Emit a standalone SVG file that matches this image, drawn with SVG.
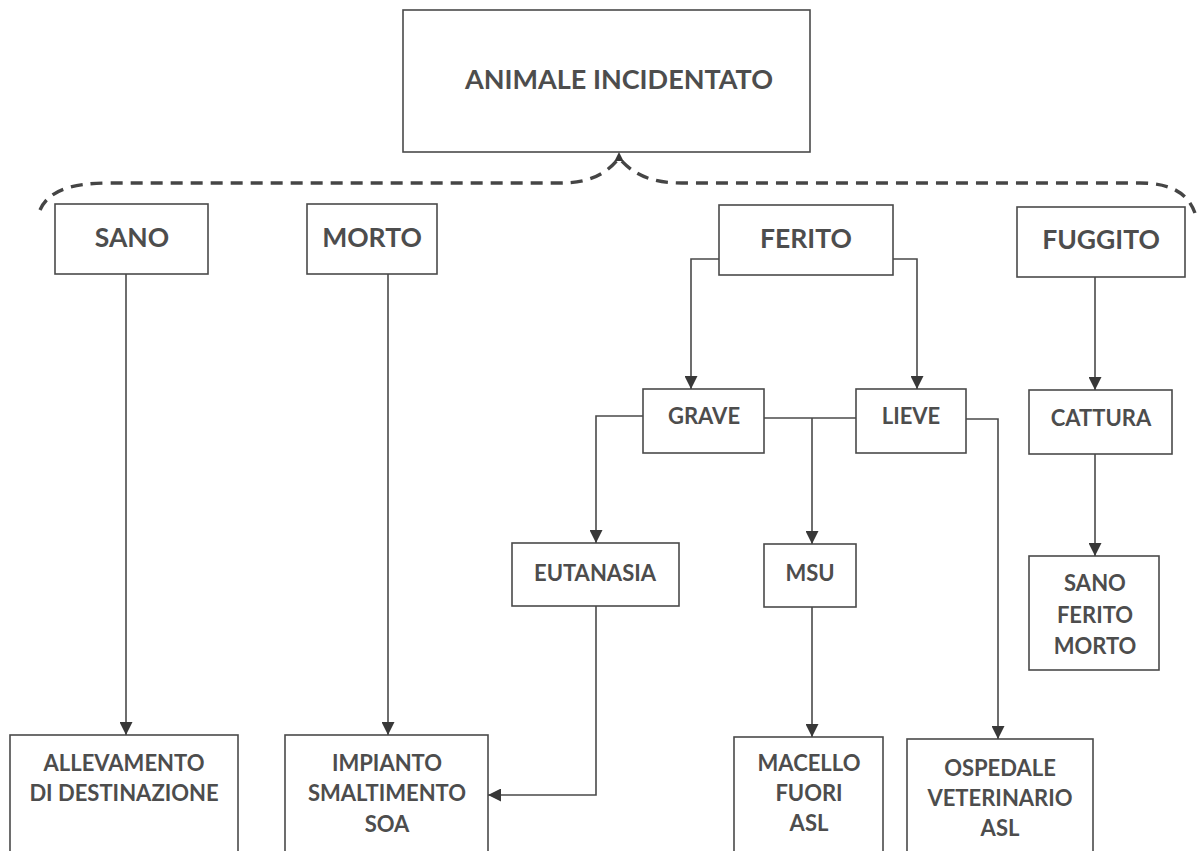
<svg xmlns="http://www.w3.org/2000/svg" width="1199" height="851" viewBox="0 0 1199 851">
  <defs>
    <style>
      .box { fill: #ffffff; stroke: #4a4a4a; stroke-width: 1.6; }
      .lbl { font-family: Lato, "Open Sans", "Liberation Sans", sans-serif; font-weight: 700; fill: #4d4d4d; text-anchor: middle; }
      .l1 { font-size: 27px; }
      .l2 { font-size: 26.5px; }
      .l3 { font-size: 22px; }
      .edge { fill: none; stroke: #4a4a4a; stroke-width: 1.6; }
      .brace { fill: none; stroke: #454545; stroke-width: 3.4; stroke-dasharray: 12 8; }
    </style>
    <marker id="arrow" viewBox="0 0 13 13" refX="13" refY="6.5" markerWidth="13" markerHeight="13" markerUnits="userSpaceOnUse" orient="auto">
      <path d="M0,0 L13,6.5 L0,13 z" fill="#383838"/>
    </marker>
  </defs>
  <rect width="1199" height="851" fill="#ffffff"/>

  <!-- root -->
  <g id="animale-incidentato">
    <rect class="box" x="403" y="10" width="407" height="142"/>
    <text class="lbl l1" x="619" y="89">ANIMALE INCIDENTATO</text>
  </g>

  <!-- dashed brace spanning the four outcomes -->
  <g id="brace">
    <path class="brace" d="M40 210 C48 192 68 183 110 183 L560 183 C590 183 606 174 619 158 C633 174 650 183 682 183 L1140 183 C1172 183 1188 194 1195 213"/>
    <path d="M614.5 161 L619 152 L623.5 161 z" fill="#383838"/>
  </g>

  <g id="sano">
    <rect class="box" x="55" y="204" width="153" height="70"/>
    <text class="lbl l2" x="132" y="247">SANO</text>
  </g>
  <g id="morto">
    <rect class="box" x="307" y="204" width="130" height="70"/>
    <text class="lbl l2" x="372" y="247">MORTO</text>
  </g>
  <g id="ferito">
    <rect class="box" x="719" y="205" width="174" height="70"/>
    <text class="lbl l2" x="806" y="248">FERITO</text>
  </g>
  <g id="fuggito">
    <rect class="box" x="1017" y="207" width="168" height="70"/>
    <text class="lbl l2" x="1101" y="249">FUGGITO</text>
  </g>

  <g id="grave">
    <rect class="box" x="643" y="389" width="121" height="64"/>
    <text class="lbl l3" x="704" y="424">GRAVE</text>
  </g>
  <g id="lieve">
    <rect class="box" x="856" y="389" width="110" height="64"/>
    <text class="lbl l3" x="911" y="424">LIEVE</text>
  </g>
  <g id="cattura">
    <rect class="box" x="1029" y="390" width="143" height="64"/>
    <text class="lbl l3" x="1101" y="426">CATTURA</text>
  </g>

  <g id="eutanasia">
    <rect class="box" x="512" y="543" width="167" height="63"/>
    <text class="lbl l3" x="595" y="581">EUTANASIA</text>
  </g>
  <g id="msu">
    <rect class="box" x="764" y="544" width="92" height="63"/>
    <text class="lbl l3" x="810" y="581">MSU</text>
  </g>
  <g id="esito-cattura">
    <rect class="box" x="1029" y="556" width="130" height="114"/>
    <text class="lbl l3" x="1095" y="591">SANO</text>
    <text class="lbl l3" x="1095" y="623">FERITO</text>
    <text class="lbl l3" x="1095" y="654">MORTO</text>
  </g>

  <g id="allevamento">
    <rect class="box" x="10" y="735" width="228" height="130"/>
    <text class="lbl l3" x="124" y="771">ALLEVAMENTO</text>
    <text class="lbl l3" x="124" y="801">DI DESTINAZIONE</text>
  </g>
  <g id="impianto-soa">
    <rect class="box" x="285" y="735" width="203" height="130"/>
    <text class="lbl l3" x="387" y="771">IMPIANTO</text>
    <text class="lbl l3" x="387" y="801">SMALTIMENTO</text>
    <text class="lbl l3" x="387" y="832">SOA</text>
  </g>
  <g id="macello">
    <rect class="box" x="734" y="737" width="149" height="130"/>
    <text class="lbl l3" x="809" y="771">MACELLO</text>
    <text class="lbl l3" x="809" y="801">FUORI</text>
    <text class="lbl l3" x="809" y="831">ASL</text>
  </g>
  <g id="ospedale">
    <rect class="box" x="907" y="739" width="186" height="130"/>
    <text class="lbl l3" x="1000" y="776">OSPEDALE</text>
    <text class="lbl l3" x="1000" y="806">VETERINARIO</text>
    <text class="lbl l3" x="1000" y="836">ASL</text>
  </g>

  <!-- connectors -->
  <g id="connectors">
    <path class="edge" d="M126 274 V735" marker-end="url(#arrow)"/>
    <path class="edge" d="M388 274 V735" marker-end="url(#arrow)"/>
    <path class="edge" d="M719 259 H691 V389" marker-end="url(#arrow)"/>
    <path class="edge" d="M893 259 H917 V389" marker-end="url(#arrow)"/>
    <path class="edge" d="M643 416 H596 V543" marker-end="url(#arrow)"/>
    <path class="edge" d="M764 418 H856"/>
    <path class="edge" d="M812 418 V544" marker-end="url(#arrow)"/>
    <path class="edge" d="M966 419 H998 V739" marker-end="url(#arrow)"/>
    <path class="edge" d="M596 606 V795 H488" marker-end="url(#arrow)"/>
    <path class="edge" d="M812 607 V737" marker-end="url(#arrow)"/>
    <path class="edge" d="M1095 277 V390" marker-end="url(#arrow)"/>
    <path class="edge" d="M1095 454 V556" marker-end="url(#arrow)"/>
  </g>
</svg>
